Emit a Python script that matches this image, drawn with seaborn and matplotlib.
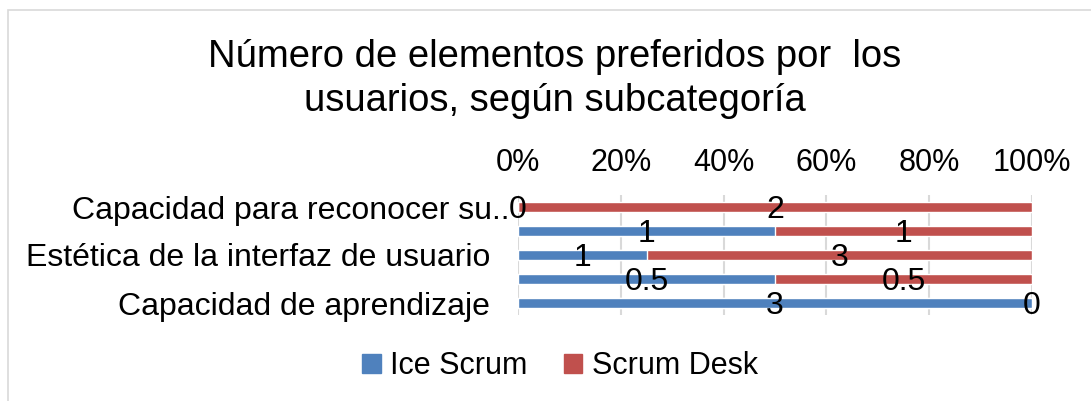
import matplotlib
matplotlib.use("Agg")
import matplotlib.pyplot as plt
import matplotlib.patches as mpatches
import matplotlib.transforms as mtransforms
import seaborn as sns
import pandas as pd
import numpy as np

categories = ["Capacidad para reconocer su..", "fila 2", "Estética de la interfaz de usuario",
              "fila 4", "Capacidad de aprendizaje"]
tick_labels = ["Capacidad para reconocer su..", "", "Estética de la interfaz de usuario",
               "", "Capacidad de aprendizaje"]
ice_scrum = [0, 1, 1, 0.5, 3]
scrum_desk = [2, 1, 3, 0.5, 0]
series = ["Ice Scrum", "Scrum Desk"]
colors = ["#4F81BD", "#C0504D"]

sns.set_style("white")
plt.rcParams["font.family"] = ["Liberation Sans", "DejaVu Sans"]
plt.rcParams["text.color"] = "black"
plt.rcParams["xtick.color"] = "black"
plt.rcParams["ytick.color"] = "black"

df = pd.DataFrame({"cat": categories, "ice": ice_scrum, "desk": scrum_desk})
total = df["ice"] + df["desk"]
df["ice_pct"] = df["ice"] / total * 100
df["total_pct"] = 100.0

fig = plt.figure(figsize=(10.91, 4.01), dpi=100)
ax = fig.add_axes([518 / 1091, 1 - 315 / 401, 514 / 1091, 120 / 401])

sns.barplot(data=df, y="cat", x="total_pct", order=categories, color=colors[1],
            width=0.38, saturation=1, ax=ax, orient="h")
sns.barplot(data=df, y="cat", x="ice_pct", order=categories, color=colors[0],
            width=0.38, saturation=1, ax=ax, orient="h")

ax.set_xlim(0, 100)
ax.set_ylim(4.5, -0.5)
ax.set_xticks([0, 20, 40, 60, 80, 100])
ax.set_xticklabels(["0%", "20%", "40%", "60%", "80%", "100%"])
ax.xaxis.tick_top()
ax.tick_params(axis="x", length=0, pad=12, labelsize=22)
ax.tick_params(axis="y", length=0, pad=20, labelsize=23)
ax.set_yticks(range(len(categories)))
ax.set_yticklabels(tick_labels)
ax.set_xlabel("")
ax.set_ylabel("")
ax.grid(axis="x", color="#D9D9D9", linewidth=1.5)
ax.set_axisbelow(True)
for s in ax.spines.values():
    s.set_visible(False)

# truncated first label sits a bit further right, touching the bar
first = ax.get_yticklabels()[0]
first.set_transform(first.get_transform() +
                    mtransforms.ScaledTranslation(19 / 100, 0, fig.dpi_scale_trans))

# data labels at the centre of each segment
for i, row in df.iterrows():
    ip = row["ice_pct"]
    ax.text(ip / 2, i + 0.12, f"{row['ice']:g}", ha="center", va="center", fontsize=23)
    ax.text(ip + (100 - ip) / 2, i + 0.12, f"{row['desk']:g}", ha="center", va="center", fontsize=23)

fig.text(555 / 1091, 1 - 57 / 401, "Número de elementos preferidos por  los",
         ha="center", va="center", fontsize=27.5)
fig.text(555 / 1091, 1 - 101 / 401, "usuarios, según subcategoría",
         ha="center", va="center", fontsize=27.5)

handles = [mpatches.Patch(color=c, label=l) for c, l in zip(colors, series)]
fig.legend(handles=handles, loc="center", bbox_to_anchor=(560 / 1091, 1 - 366 / 401),
           ncol=2, frameon=False, fontsize=22, handlelength=0.6, handleheight=0.6,
           handletextpad=0.3, columnspacing=1.2)

fig.patches.append(mpatches.Rectangle((8 / 1091, -0.1), 1.2, 1 - 10 / 401 + 0.1,
                                      transform=fig.transFigure, fill=False,
                                      edgecolor="#D9D9D9", linewidth=1.2))

fig.savefig("out.png", dpi=100)
